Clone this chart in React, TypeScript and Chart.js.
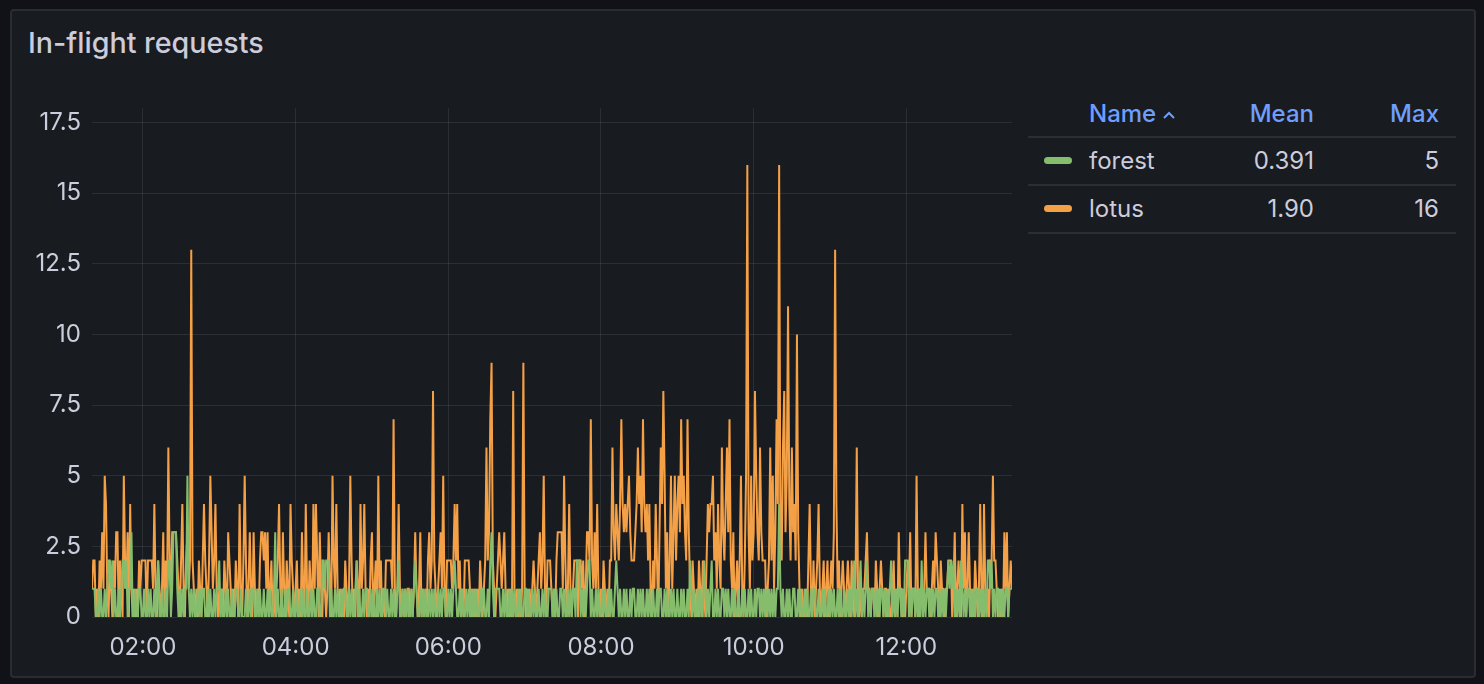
import React, { useEffect, useRef } from 'react';
import { Chart, registerables } from 'chart.js';

Chart.register(...registerables);

// ---- data ----
const START_MINUTE = 80; // 01:20
const STEP_MINUTES = 1;

const seriesNames = ['forest', 'lotus'];
const seriesMeans = ['0.391', '1.90'];
const seriesMaxes = ['5', '16'];
const seriesColors = ['#86bd6c', '#f4a047'];

const xTickMinutes = [120, 240, 360, 480, 600, 720];
const yTickValues = [0, 2.5, 5, 7.5, 10, 12.5, 15, 17.5];

const forest = [
  1,1,1,0,0,1,0,1,0,0, 1,0,1,2,2,1,2,0,1,0, 0,1,0,1,2,2,1,2,0,1, 1,3,0,0,1,0,0,1,1,0, 0,1,0,0,1,0,1,0,0,1, 0,1,2,0,0,1,0,0,1,0,
  2,2,0,1,3,3,3,1,0,1, 0,1,0,1,1,5,1,0,1,0, 1,0,0,1,0,1,0,1,1,0, 0,1,0,1,0,0,1,0,1,1, 2,0,1,0,0,1,0,1,0,0, 1,0,0,1,1,0,0,1,0,0,
  0,1,0,0,1,0,1,1,0,0, 1,0,1,0,0,1,0,0,1,0, 1,0,0,1,3,0,1,0,0,1, 0,0,1,0,1,1,0,0,1,0, 0,1,0,0,1,0,1,0,0,1, 0,0,1,0,1,0,0,1,1,0,
  0,2,2,1,2,2,2,0,1,0, 0,1,0,1,0,0,1,0,1,1, 0,0,1,0,1,0,0,1,2,0, 1,0,0,1,0,1,1,0,0,1, 0,1,0,0,1,0,1,0,0,1, 1,0,1,0,0,1,0,1,0,0,
  1,2,0,0,1,0,1,0,1,0, 0,1,0,1,2,1,0,0,1,0, 1,0,1,0,0,1,0,1,0,1, 0,0,1,0,1,0,1,1,0,0, 1,0,1,0,1,2,1,0,0,1, 0,1,0,0,1,0,1,0,1,0,
  1,0,1,0,0,1,0,1,1,0, 0,1,0,2,3,1,0,1,1,1, 1,0,0,1,0,1,0,0,1,0, 1,0,1,0,0,1,0,1,0,0, 1,1,0,1,0,0,1,0,1,0, 0,1,0,0,1,0,1,0,0,1,
  1,1,0,1,0,1,0,0,1,1, 0,1,0,0,1,0,1,0,1,1, 0,2,2,2,0,1,0,1,0,1, 2,2,0,1,0,0,1,0,1,0, 0,1,0,1,0,0,1,0,1,0, 0,1,2,1,0,1,0,0,1,0,
  1,0,0,1,0,1,1,0,0,1, 0,1,0,1,0,0,1,0,1,0, 0,1,0,0,1,0,1,1,0,0, 1,0,1,0,0,1,0,1,0,0, 1,0,0,1,0,1,0,0,1,0, 2,1,0,1,0,0,1,0,1,0,
  0,2,1,0,1,0,1,2,0,0, 1,0,1,0,0,1,1,0,1,0, 1,0,0,1,0,1,0,0,1,0, 0,1,0,1,0,0,1,0,1,0, 0,1,0,1,1,0,1,0,1,0, 1,0,1,0,1,0,1,0,1,1,
  4,1,0,1,0,0,1,0,1,0, 0,1,1,0,0,1,0,1,0,0, 1,0,1,0,0,1,0,1,1,0, 0,1,0,0,1,0,1,0,0,1, 0,1,0,1,0,0,1,0,1,0, 0,1,0,0,1,0,1,0,1,2,
  0,1,0,1,2,0,1,0,1,2, 0,1,0,1,1,0,1,0,1,0, 1,1,0,1,0,1,0,1,2,0, 1,0,1,0,1,1,0,1,0,2, 2,2,0,1,0,1,1,0,1,0, 1,0,2,0,1,0,1,1,0,1,
  0,1,0,1,1,0,1,0,1,0, 1,0,1,2,1,2,1,2,0,1, 0,1,0,2,1,0,1,0,1,1, 0,1,0,1,0,1,1,0,1,0, 1,0,1,0,2,2,1,2,0,1, 0,1,1,0,1,0,1,0,1,1,
  0,1,1,1,
];

const lotus = [
  1,2,2,0,1,0,2,1,3,1, 5,4,1,0,2,1,0,2,1,3, 3,0,2,1,0,5,2,1,3,0, 4,1,0,1,0,1,0,2,1,2, 2,2,2,0,2,2,2,2,1,4, 1,0,2,1,0,1,3,0,2,1,
  6,2,1,3,3,3,3,2,1,0, 2,4,1,0,2,3,1,2,13,2, 1,0,1,0,2,1,0,2,4,2, 1,0,2,5,3,1,2,4,1,0, 1,0,1,0,2,1,0,3,2,1, 0,1,0,2,1,0,4,1,0,2,
  5,2,0,1,3,1,0,3,1,0, 1,0,2,3,3,2,3,1,3,0, 1,2,0,1,0,1,2,4,1,0, 3,1,0,2,1,0,4,2,1,0, 1,2,0,1,0,3,1,0,4,1, 0,2,1,0,4,1,4,2,0,3,
  1,0,2,1,0,1,3,1,0,5, 2,1,4,1,0,1,0,1,0,2, 1,0,1,5,2,0,1,0,2,1, 0,4,1,2,4,1,0,1,0,2, 3,0,1,2,0,5,1,2,0,1, 0,2,2,2,2,2,1,7,1,0,
  1,4,1,0,1,0,1,0,1,1, 0,1,0,1,3,1,0,1,3,0, 1,0,1,0,2,3,1,2,8,2, 1,0,1,2,3,1,5,1,0,2, 2,2,2,1,2,4,2,4,1,2, 0,1,0,2,2,2,2,1,0,1,
  0,1,0,1,0,2,1,0,1,2, 6,2,3,7,9,2,1,0,1,2, 3,2,1,2,3,1,0,1,0,1, 0,8,1,0,1,0,1,0,1,9, 1,0,1,0,1,0,1,2,1,0, 1,2,3,1,2,5,1,0,2,2,
  2,1,0,1,0,2,3,3,3,3, 1,5,2,0,1,4,1,0,1,2, 2,2,0,2,2,1,2,0,1,3, 3,2,7,2,1,3,1,4,1,0, 1,0,2,1,0,1,0,2,2,6, 3,2,4,3,2,4,7,4,3,4,
  3,4,5,3,2,2,2,3,4,6, 4,5,3,7,4,3,4,2,4,1, 0,2,1,4,2,0,3,6,4,8, 5,1,3,0,2,5,1,3,5,2, 4,5,3,7,4,5,3,2,7,3, 1,0,2,1,0,1,0,2,1,0,
  2,1,0,2,4,3,4,4,5,2, 3,1,4,2,1,6,3,2,4,6, 3,7,2,1,3,0,1,2,0,2, 5,1,0,2,5,16,3,1,5,2, 3,8,5,3,2,6,3,2,2,2, 0,1,2,6,2,5,1,3,7,4,
  16,3,2,6,8,3,5,11,4,2, 6,3,4,2,10,3,1,0,1,0, 0,1,0,2,4,1,0,2,0,1, 2,4,1,0,1,2,0,1,2,0, 1,2,1,3,13,4,1,2,0,1, 2,1,0,1,2,1,0,2,1,0,
  1,6,1,0,1,0,1,1,2,3, 1,1,0,1,1,0,2,1,0,1, 2,1,0,1,1,0,1,0,0,1, 2,0,1,0,3,1,1,0,1,0, 1,2,1,3,0,1,1,0,5,1, 0,1,1,0,1,3,1,1,1,0,
  1,2,1,3,2,1,0,2,1,1, 0,1,1,2,2,2,0,1,3,0, 1,2,1,0,4,1,3,0,1,3, 1,0,1,0,2,1,0,1,4,1, 0,4,1,0,1,0,2,2,5,2, 2,1,0,1,0,1,0,3,1,3,
  0,1,2,1,
];

// ---- styles ----
const PAGE_BG = '#111217';
const PANEL_BG = '#181b1f';
const PANEL_BORDER = '#2a2c31';
const TEXT = '#ccccdc';
const HEADER_BLUE = '#6e9fff';
const GRID = 'rgba(240,250,255,0.09)';
const FONT = 'Inter, "Noto Sans", sans-serif';

function fmtTime(m: number): string {
  const h = Math.floor(m / 60);
  const mm = Math.round(m % 60);
  return String(h).padStart(2, '0') + ':' + String(mm).padStart(2, '0');
}

function toPoints(values: number[]) {
  return values.map((v, i) => ({ x: START_MINUTE + i * STEP_MINUTES, y: v }));
}

export default function App() {
  const canvasRef = useRef<HTMLCanvasElement | null>(null);

  useEffect(() => {
    document.body.style.margin = '0';
    document.body.style.background = PAGE_BG;
    const canvas = canvasRef.current;
    if (!canvas) return;
    const series = [forest, lotus];
    const chart = new Chart(canvas, {
      type: 'line',
      data: {
        datasets: series.map((vals, idx) => ({
          label: seriesNames[idx],
          data: toPoints(vals),
          borderColor: seriesColors[idx],
          backgroundColor: seriesColors[idx],
          borderWidth: 2,
          pointRadius: 0,
          tension: 0,
          fill: false,
        })),
      },
      options: {
        animation: false,
        responsive: false,
        devicePixelRatio: 1,
        events: [],
        layout: { padding: { top: 12, right: 12, left: 0, bottom: 0 } },
        plugins: { legend: { display: false }, tooltip: { enabled: false } },
        scales: {
          x: {
            type: 'linear',
            min: START_MINUTE,
            max: START_MINUTE + (lotus.length - 1) * STEP_MINUTES,
            afterBuildTicks: (s: any) => {
              s.ticks = xTickMinutes.map((v) => ({ value: v }));
            },
            afterFit: (s: any) => {
              s.height = 54;
            },
            ticks: {
              autoSkip: false,
              maxRotation: 0,
              color: TEXT,
              padding: 16,
              font: { family: FONT, size: 24 },
              callback: (v: any) => fmtTime(Number(v)),
            },
            grid: { color: GRID, drawTicks: false, lineWidth: 1 },
            border: { display: false },
          },
          y: {
            min: 0,
            max: 18,
            afterBuildTicks: (s: any) => {
              s.ticks = yTickValues.map((v) => ({ value: v }));
            },
            afterFit: (s: any) => {
              s.width = 80;
            },
            ticks: {
              color: TEXT,
              padding: 11,
              font: { family: FONT, size: 24 },
              callback: (v: any) => String(v),
            },
            grid: { color: GRID, drawTicks: false, lineWidth: 1 },
            border: { display: false },
          },
        },
      },
    } as any);
    return () => chart.destroy();
  }, []);

  const textBase: React.CSSProperties = {
    position: 'absolute',
    fontFamily: FONT,
    fontSize: 24,
    lineHeight: '24px',
    whiteSpace: 'nowrap',
  };

  const rowTops = [149, 197];
  const markerTops = [157, 205];

  return (
    <div style={{ position: 'relative', width: 1484, height: 684, background: PAGE_BG, overflow: 'hidden' }}>
      <div
        style={{
          position: 'absolute',
          left: 10,
          top: 9,
          width: 1462,
          height: 665,
          background: PANEL_BG,
          border: `2px solid ${PANEL_BORDER}`,
          borderRadius: 4,
        }}
      />
      <div
        style={{
          ...textBase,
          left: 28,
          top: 29,
          fontSize: 28.7,
          lineHeight: '28px',
          fontWeight: 500,
          color: TEXT,
        }}
      >
        In-flight requests
      </div>
      <canvas
        ref={canvasRef}
        width={1012}
        height={588}
        style={{ position: 'absolute', left: 12, top: 83, width: 1012, height: 588 }}
      />
      {/* legend table */}
      <div style={{ ...textBase, left: 1089, top: 102, color: HEADER_BLUE, fontWeight: 500 }}>Name</div>
      <svg style={{ position: 'absolute', left: 1162, top: 110 }} width={14} height={10}>
        <polyline points="2,8 7,3 12,8" fill="none" stroke={HEADER_BLUE} strokeWidth={2} />
      </svg>
      <div style={{ ...textBase, right: 1484 - 1314, top: 102, color: HEADER_BLUE, fontWeight: 500, textAlign: 'right' }}>Mean</div>
      <div style={{ ...textBase, right: 1484 - 1439, top: 102, color: HEADER_BLUE, fontWeight: 500, textAlign: 'right' }}>Max</div>
      {[136, 184, 232].map((y) => (
        <div key={y} style={{ position: 'absolute', left: 1028, top: y, width: 428, height: 2, background: '#2c2e34' }} />
      ))}
      {seriesNames.map((name, i) => (
        <React.Fragment key={name}>
          <div
            style={{
              position: 'absolute',
              left: 1044,
              top: markerTops[i],
              width: 28,
              height: 7,
              borderRadius: 4,
              background: seriesColors[i],
            }}
          />
          <div style={{ ...textBase, left: 1089, top: rowTops[i], color: TEXT }}>{name}</div>
          <div style={{ ...textBase, right: 1484 - 1314, top: rowTops[i], color: TEXT, textAlign: 'right' }}>{seriesMeans[i]}</div>
          <div style={{ ...textBase, right: 1484 - 1439, top: rowTops[i], color: TEXT, textAlign: 'right' }}>{seriesMaxes[i]}</div>
        </React.Fragment>
      ))}
    </div>
  );
}
